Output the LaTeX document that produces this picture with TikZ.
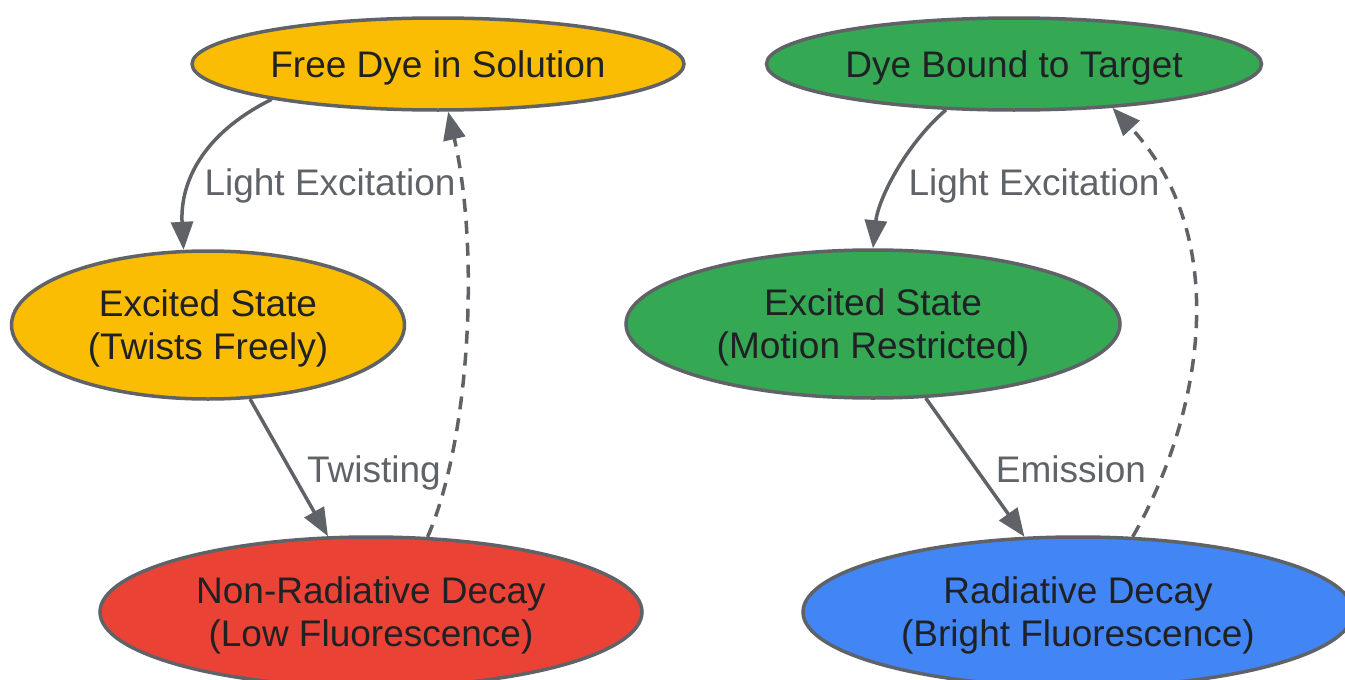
\documentclass[tikz,border=0pt]{standalone}
\usepackage{fontspec}
\setmainfont{Liberation Sans}
\usetikzlibrary{shapes.geometric,arrows.meta}
\definecolor{cyellow}{HTML}{FBBC04}
\definecolor{cgreen}{HTML}{34A853}
\definecolor{cred}{HTML}{EA4335}
\definecolor{cblue}{HTML}{4285F4}
\definecolor{cedge}{HTML}{5F6368}
\definecolor{ctext}{HTML}{202124}
\tikzset{
  state/.style={ellipse, draw=cedge, line width=3.5pt, inner sep=0pt, text=ctext,
    font=\fontsize{37}{43}\selectfont, align=center, text depth=0pt},
  twoline/.style={text depth=-4pt},
  conn/.style={draw=cedge, line width=3.5pt, -{Triangle[length=28pt,width=22pt]}},
  dashconn/.style={conn, dash pattern=on 13pt off 9pt},
  lbl/.style={text=cedge, font=\fontsize{37}{43}\selectfont, inner sep=0pt}
}
\begin{document}
\begin{tikzpicture}[x=1pt,y=-1pt]
\useasboundingbox (0,0) rectangle (1345,680);
\clip (0,0) rectangle (1345,680);
\node[state, fill=cyellow, minimum width=492pt, minimum height=92pt] (free) at (438,64) {Free Dye in Solution};
\node[state, fill=cgreen, minimum width=495pt, minimum height=92pt] (bound) at (1014,64) {Dye Bound to Target};
\node[state, twoline, fill=cyellow, minimum width=393pt, minimum height=148pt] (exl) at (208,325) {Excited State\\(Twists Freely)};
\node[state, twoline, fill=cgreen, minimum width=494pt, minimum height=148pt] (exr) at (873,324) {Excited State\\(Motion Restricted)};
\node[state, twoline, fill=cred, minimum width=542pt, minimum height=150pt] (nr) at (371,612) {Non-Radiative Decay\\(Low Fluorescence)};
\node[state, twoline, fill=cblue, minimum width=550pt, minimum height=150pt] (rad) at (1078,612) {Radiative Decay\\(Bright Fluorescence)};

\draw[conn] (free.192) .. controls (200,135) and (180,185) .. (exl.108);
\draw[conn] (exl) -- (nr);
\draw[dashconn] (nr.53) .. controls (470,440) and (480,250) .. (free.-78);
\draw[conn] (bound.214) .. controls (905,145) and (878,200) .. (exr.90);
\draw[conn] (exr) -- (rad);
\draw[dashconn] (rad.54) .. controls (1200,420) and (1235,240) .. (bound.-24);

\node[lbl] (l1) at (330,186) {Light Excitation};
\node[lbl] (l2) at (374,473) {Twisting};
\node[lbl] (l3) at (1034,186) {Light Excitation};
\node[lbl] (l4) at (1071,469) {Emission};
\end{tikzpicture}
\end{document}
